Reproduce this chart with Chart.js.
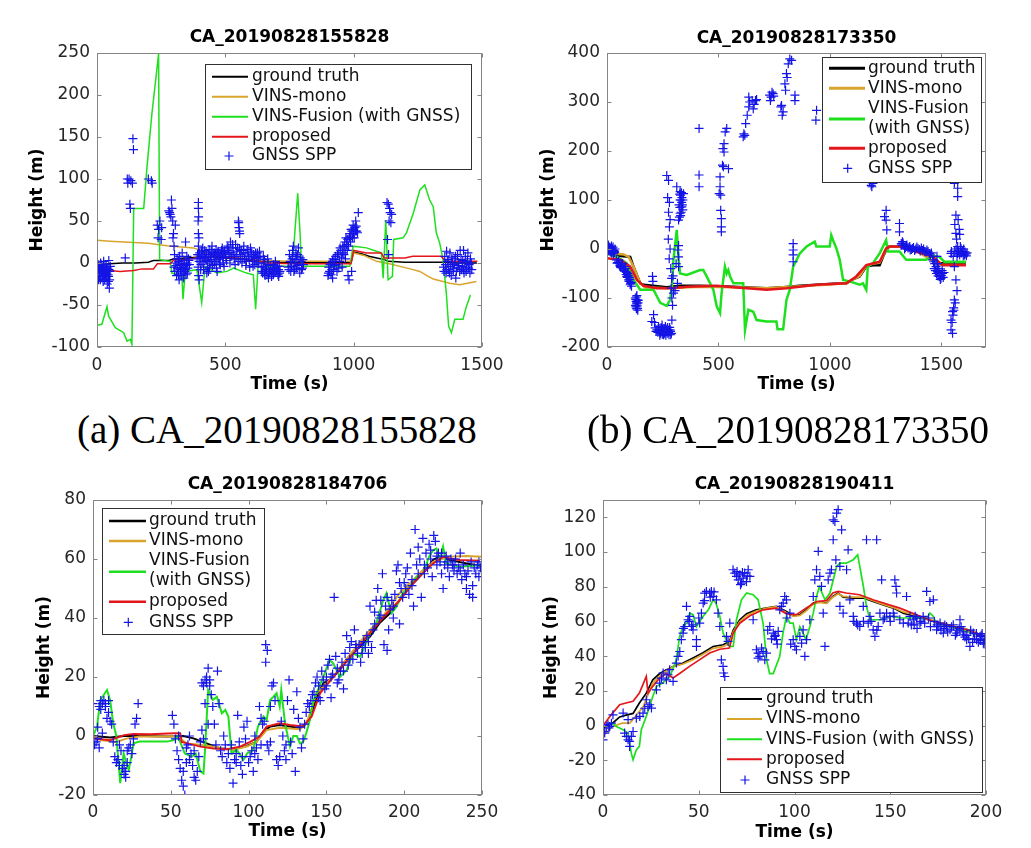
<!DOCTYPE html>
<html><head><meta charset="utf-8">
<script src="https://cdn.jsdelivr.net/npm/chart.js@4/dist/chart.umd.min.js"></script>
<style>
body{margin:0;background:#fff;}
#wrap{position:relative;width:1031px;height:848px;overflow:hidden;background:#fff}
canvas{position:absolute}
.cap{position:absolute;font-family:"Liberation Serif","Times New Roman",serif;font-size:39px;line-height:40px;color:#000;white-space:pre}
</style></head><body>
<div id="wrap">
<canvas id="ca" width="520" height="400" style="left:0;top:0"></canvas>
<canvas id="cb" width="531" height="400" style="left:500px;top:0"></canvas>
<canvas id="cc" width="520" height="388" style="left:0;top:460px"></canvas>
<canvas id="cd" width="531" height="388" style="left:500px;top:460px"></canvas>
<div class="cap" style="left:77px;top:410px">(a) CA_20190828155828</div>
<div class="cap" style="left:587px;top:410px">(b) CA_20190828173350</div>
</div>
<script>
// ---------- series labels ----------
const SERIES = ['ground truth','VINS-mono','VINS-Fusion (with GNSS)','proposed','GNSS SPP'];
const TITLES = ['CA_20190828155828','CA_20190828173350','CA_20190828184706','CA_20190828190411'];

// ---------- (a) ----------
const A_XTICKS = [0,500,1000,1500];
const A_YTICKS = [-100,-50,0,50,100,150,200,250];
const A_GT = [[0,-2],[50,-1],[100,0],[150,0],[200,1],[220,3],[280,3],[300,5],[350,6],[400,7],[450,7],[500,6],[550,5],[600,3],[650,2],[700,1],[800,1],[900,1],[990,1],[1000,13],[1030,11],[1060,8],[1090,6],[1120,4],[1135,2],[1200,1],[1300,1],[1360,1],[1400,0],[1480,0]];
const A_MONO = [[0,27],[50,26],[143,24.5],[200,23.5],[272,20.6],[376,18],[428,12],[500,8],[560,6],[650,3],[750,2],[850,2],[990,2],[1000,12],[1040,9],[1089,2],[1140,-1],[1180,-4],[1220,-7],[1258,-10],[1290,-16],[1310,-19],[1374,-24],[1413,-26],[1478,-22]];
const A_FUS = [[0,-74],[19,-73],[39,-52],[45,-63],[71,-77],[104,-83],[117,-93],[130,-91],[136,-97],[143,65],[182,65],[195,115],[214,178],[240,249],[244,4],[285,2],[292,-12],[331,-16],[335,-43],[344,-10],[389,-8],[408,-47],[421,-4],[467,-12],[506,-10],[532,-6],[583,-12],[609,-14],[618,-55],[629,4],[661,-4],[752,-4],[765,12],[782,83],[791,36],[797,-4],[985,-4],[998,20],[1050,18],[1108,12],[1115,-18],[1125,51],[1134,-20],[1151,-16],[1156,28],[1193,30],[1206,36],[1232,59],[1258,87],[1277,93],[1296,75],[1310,67],[1322,36],[1335,24],[1348,4],[1361,-36],[1370,-75],[1381,-83],[1394,-67],[1426,-67],[1439,-52],[1455,-38]];
const A_PROP = [[0,-9],[52,-9],[90,-10],[143,-9],[175,-7],[220,-7],[235,-1],[285,-1],[300,4],[350,4],[400,7],[450,8],[500,7],[560,5],[620,3],[660,0],[760,-1],[870,-1],[990,-1],[1000,15],[1050,12],[1108,12],[1118,6],[1200,6],[1230,8],[1340,8],[1360,2],[1482,2]];
const A_GNSS = [[0,-5],[3,-10],[5,-2],[8,-15],[10,-8],[12,-3],[15,-12],[18,-6],[20,-18],[22,-10],[25,-4],[28,-14],[30,-20],[32,-8],[35,-2],[38,-12],[40,-25],[42,-6],[45,-16],[48,-30],[50,-10],[52,-4],[44,-22],[36,-18],[26,2],[14,0],[6,-20],[46,3],
[2,-12],[7,-6],[11,-16],[16,-2],[19,-10],[23,-15],[27,-7],[31,-12],[34,-16],[37,-5],[41,-10],[43,-14],[47,-8],[49,-20],[13,-20],[24,-22],
[110,6],[118,100],[120,95],[125,100],[128,70],[130,65],[132,98],[140,148],[142,135],[138,95],[200,100],[215,95],[212,98],
[235,45],[238,30],[240,40],[245,50],[250,28],[252,42],[280,62],[283,60],[285,58],[290,75],[292,65],[295,50],[298,35],[300,20],[302,10],[296,30],[288,55],[305,45],
[300,-5],[305,0],[310,-15],[312,5],[315,-10],[318,2],[320,-20],[322,8],[325,-8],[328,-15],[330,0],[332,12],[335,-5],[338,-18],[340,3],[342,-10],[345,25],[348,-3],[350,8],[352,-12],[356,5],[360,-2],
[303,-10],[308,-3],[314,-6],[317,-14],[323,-2],[327,-10],[331,-6],[336,-12],[339,-1],[344,-8],[347,-14],[351,0],[354,-6],[358,3],
[395,72],[395,65],[396,55],[394,50],[395,35],[397,30],[395,20],[396,10],[394,-5],[396,-15],[398,-20],
[390,5],[400,12],[405,-2],[410,8],[415,-8],[420,15],[425,3],[430,-5],[435,10],[440,0],[445,14],[450,-3],[455,8],[460,2],[465,-6],[470,12],[475,5],[480,-2],[485,15],[490,6],[495,-4],[500,10],[505,3],[412,18],[428,-12],[448,20],[468,-10],[488,18],[418,5],[438,-6],[458,12],[478,8],
[392,10],[398,2],[402,6],[407,14],[413,0],[417,10],[422,6],[427,12],[432,2],[437,16],[442,8],[447,4],[452,12],[457,-2],[462,10],[467,4],[472,14],[477,0],[482,8],[487,12],[492,0],[497,14],[502,6],[507,18],[404,-8],[434,-10],[464,16],[494,12],
[510,20],[515,12],[520,25],[525,8],[530,18],[535,5],[540,22],[545,14],[550,2],[555,16],[518,0],[538,-2],[552,48],[553,42],[555,38],[556,35],[551,50],
[512,15],[522,12],[528,22],[533,10],[542,8],[548,18],[558,5],[562,15],[568,8],[577,12],[582,2],[588,16],[593,4],[603,10],[608,-4],[613,6],[618,12],[623,0],[628,6],[633,14],
[560,10],[565,0],[570,15],[575,5],[580,-3],[585,12],[590,8],[595,-5],[600,14],[605,2],[610,10],[615,-2],[620,6],[625,12],[630,0],[635,8],[572,20],[598,18],
[640,-5],[645,-12],[650,0],[655,-15],[660,-8],[665,5],[670,-10],[675,-3],[680,-16],[685,-6],[690,-12],[695,2],[700,-8],[705,-14],[710,-4],[713,-10],[648,8],[668,-18],[688,-2],[708,-16],
[642,-10],[647,-4],[652,-12],[657,-6],[662,-14],[667,-2],[672,-12],[677,-8],[682,-10],[687,-14],[692,-6],[697,-10],[702,-4],[707,-8],[711,-12],[653,4],
[745,-5],[750,10],[755,-10],[760,5],[762,15],[765,20],[768,0],[770,-8],[775,12],[780,-3],[785,18],[790,-12],[795,2],[800,-6],[804,-2],[778,8],
[748,-8],[753,2],[758,-4],[763,8],[767,-10],[772,4],[777,-6],[782,10],[787,-2],[792,6],[797,-8],[802,4],
[900,-15],[903,-5],[906,-10],[910,0],[915,-8],[918,-18],[920,5],[925,-3],[930,8],[935,-10],[940,12],[945,2],[950,15],[955,-5],[958,20],[962,10],[965,25],[968,5],[970,30],[975,15],[978,-15],[980,20],[985,35],[988,25],[990,40],[995,30],[998,45],[1000,35],[1005,42],[1008,50],[1012,38],[1018,60],[982,-20],[992,-10],
[902,-12],[908,-2],[912,-14],[917,2],[922,-8],[927,4],[932,-2],[937,10],[942,-6],[947,18],[952,6],[957,12],[963,20],[967,15],[972,22],[977,28],[983,30],[987,32],[993,38],[997,40],[1002,30],[1007,38],[1010,44],[1015,36],
[1130,72],[1135,70],[1140,65],[1142,60],[1138,50],[1145,48],[1132,28],[1136,10],[1148,58],
[1350,-5],[1355,8],[1360,-12],[1365,2],[1370,-8],[1375,12],[1380,-15],[1385,0],[1390,-6],[1395,5],[1400,-10],[1405,10],[1410,-3],[1415,15],[1420,-8],[1425,3],[1430,-12],[1435,8],[1440,-5],[1445,12],[1450,-2],[1455,5],[1460,-8],[1362,14],[1398,-18],[1428,15],
[1352,-10],[1358,-2],[1363,-8],[1368,4],[1373,-12],[1378,-4],[1383,6],[1388,-10],[1393,-2],[1397,8],[1403,-6],[1408,0],[1413,-10],[1418,4],[1423,-4],[1428,-8],[1433,0],[1438,-10],[1443,2],[1448,-6],[1453,-12],[1458,0]];

// ---------- (b) ----------
const B_XTICKS = [0,500,1000,1500];
const B_YTICKS = [-200,-100,0,100,200,300,400];
const B_GT = [[0,5],[30,-9],[45,-14],[104,-16],[119,-36],[149,-70],[164,-73],[268,-78],[328,-75],[417,-75],[567,-77],[716,-80],[790,-78],[865,-75],[1014,-71],[1074,-70],[1103,-62],[1133,-56],[1163,-36],[1193,-33],[1223,-33],[1238,-16],[1252,-2],[1267,5],[1312,5],[1342,2],[1402,-5],[1446,-9],[1491,-29],[1521,-29],[1610,-29]];
const B_MONO = [[0,-9],[30,-9],[52,-10],[75,-11],[97,-16],[119,-36],[149,-70],[170,-78],[268,-80],[417,-77],[567,-78],[716,-80],[865,-76],[1014,-72],[1074,-70],[1103,-62],[1133,-55],[1163,-34],[1193,-30],[1223,-28],[1238,-14],[1252,0],[1267,5],[1312,5],[1402,-8],[1491,-32],[1610,-32]];
const B_FUS = [[0,-9],[45,-16],[89,-29],[119,-63],[149,-83],[209,-83],[224,-97],[239,-110],[268,-116],[283,-104],[291,-77],[298,-22],[313,39],[321,-22],[328,-50],[358,-53],[417,-43],[432,-43],[447,-56],[477,-83],[492,-117],[507,-131],[514,-90],[529,-36],[537,-50],[544,-43],[552,-56],[567,-70],[611,-70],[619,-165],[634,-124],[656,-128],[671,-145],[716,-148],[760,-148],[765,-164],[790,-164],[805,-104],[820,-83],[835,-36],[865,-9],[895,5],[932,15],[939,5],[999,5],[1006,28],[1014,18],[1029,1],[1044,-22],[1059,-63],[1088,-66],[1133,-73],[1148,-70],[1163,-83],[1170,-36],[1193,-29],[1223,-9],[1252,18],[1260,-5],[1312,-5],[1342,-22],[1431,-22],[1461,-14],[1491,-16],[1513,-26],[1610,-26]];
const B_PROP = [[0,-19],[60,-22],[104,-36],[134,-63],[164,-75],[224,-80],[298,-80],[358,-77],[492,-75],[567,-78],[716,-83],[805,-80],[939,-73],[1074,-70],[1118,-56],[1163,-33],[1223,-26],[1252,1],[1267,5],[1312,5],[1387,-5],[1461,-16],[1506,-33],[1610,-33]];
const B_GNSS = [[0,5],[3,0],[6,8],[9,-3],[12,3],[15,-6],[18,2],[21,-8],[24,-2],[27,4],[30,-10],[33,-5],[36,0],[5,-4],[20,6],
[1,2],[4,6],[7,-1],[10,4],[13,-3],[16,1],[19,-4],[22,-6],[25,0],[28,-8],[31,-3],[34,-7],[2,-2],[8,3],
[45,-29],[52,-25],[60,-36],[67,-33],[75,-43],[82,-40],[89,-56],[93,-50],[97,-63],[100,-58],[104,-73],[108,-68],[70,-30],[85,-46],
[42,-22],[48,-28],[55,-30],[58,-34],[63,-38],[65,-30],[72,-40],[78,-44],[80,-36],[86,-52],[88,-48],[91,-58],[95,-54],[99,-66],[102,-62],[106,-70],[110,-76],
[127,-100],[131,-107],[134,-112],[137,-121],[134,-95],[140,-105],[128,-115],[138,-125],[204,-56],[206,-66],
[129,-103],[132,-98],[133,-110],[136,-104],[130,-118],[135,-116],[139,-110],[132,-122],
[201,-148],[209,-134],[216,-161],[224,-165],[231,-158],[239,-172],[246,-168],[254,-175],[261,-162],[268,-168],[276,-170],[283,-165],[291,-145],[213,-150],[243,-160],[258,-172],[272,-160],[286,-175],[220,-168],[250,-165],
[228,-170],[234,-166],[237,-176],[242,-170],[248,-174],[252,-168],[256,-163],[260,-170],[264,-176],[266,-165],[270,-172],[274,-166],[278,-175],[281,-160],[285,-168],[289,-172],[262,-158],[247,-155],
[268,150],[276,140],[272,105],[280,95],[276,75],[283,60],[280,45],[275,20],[283,0],[279,-20],[286,-40],[290,-60],[288,-80],[291,-100],[294,-115],[296,-55],[298,-90],
[313,127],[328,117],[328,100],[336,86],[328,73],[321,59],[330,110],[335,95],[340,80],[325,65],[343,113],[318,-2],[321,7],[321,-16],[321,-36],[316,-70],[305,-85],[310,-30],
[323,90],[327,85],[331,100],[333,75],[336,105],[338,90],[334,115],[326,112],[341,100],[330,68],
[413,246],[413,151],[413,127],
[503,113],[507,127],[507,147],[510,79],[513,62],[513,45],[513,35],[518,171],[525,198],[525,215],[530,239],[537,246],[545,164],[522,168],[510,110],[520,205],
[611,229],[614,235],[622,256],[629,273],[636,290],[636,310],[651,303],[656,286],[666,303],[671,305],[618,232],[640,300],[660,295],
[729,314],[736,310],[745,317],[733,303],[740,320],[748,312],
[783,293],[786,273],[780,290],[798,337],[801,324],[805,358],[813,378],[820,388],[828,385],[790,280],[808,350],
[843,314],[843,303],[835,11],[835,-2],[835,-12],[835,-26],[940,283],[937,263],
[1185,130],[1178,137],[1193,134],[1188,127],[1252,79],[1252,59],[1255,39],[1245,66],[1312,52],[1312,35],
[1320,11],[1330,8],[1342,5],[1355,3],[1370,1],[1385,0],[1401,-1],[1415,-3],[1431,-6],[1446,-9],[1325,15],[1360,-2],[1390,4],[1420,0],[1440,-5],[1335,0],
[1322,8],[1328,12],[1338,3],[1345,8],[1350,2],[1358,5],[1365,-1],[1375,3],[1380,-3],[1395,1],[1405,-4],[1410,2],[1425,-5],[1435,-2],[1450,-12],[1455,-8],
[1461,-22],[1476,-36],[1483,-46],[1491,-56],[1498,-60],[1470,-30],[1488,-40],[1505,-50],[1480,-15],
[1465,-26],[1468,-40],[1473,-44],[1478,-50],[1485,-55],[1493,-48],[1495,-62],[1500,-54],[1503,-44],[1508,-58],[1512,-48],[1482,-30],
[1558,134],[1573,124],[1573,107],[1565,69],[1565,32],[1573,5],[1573,-9],[1558,-36],[1565,-63],[1558,-104],[1550,-128],[1543,-145],[1543,-165],[1550,-172],[1543,-9],[1588,1],[1603,-12],[1580,40],[1595,-5],[1610,-10],[1555,-120],[1560,50],
[1560,-5],[1566,0],[1570,-15],[1576,-4],[1582,-12],[1585,5],[1590,-8],[1598,-14],[1600,0],[1606,-6],[1612,-14],[1615,-8],[1568,20],[1575,60],[1582,30],[1552,-135],[1548,-150],[1556,-125],[1562,-110],[1570,-85],[1545,-5],[1553,-15]];

// ---------- (c) ----------
const C_XTICKS = [0,50,100,150,200,250];
const C_YTICKS = [-20,0,20,40,60,80];
const C_GT = [[0,0],[11,-0.5],[20,0],[26,0],[32.5,0],[47.5,-0.2],[58,0],[64.6,-0.8],[73,-2.5],[81.7,-4.2],[90,-4.5],[98.8,-3.4],[105,-2],[109.5,1.5],[114,3.2],[120,3.7],[126.6,3.2],[133,2.6],[137,4.3],[140.5,7.7],[143.7,13.3],[148,17.9],[152,19],[158.7,22.4],[165,26.9],[171.5,30.3],[178,33.7],[184,38.2],[190.8,41.6],[197,46],[201.5,49.5],[207.9,52.9],[214,56.3],[218.6,59.7],[222.8,60.8],[229,59.7],[240,58.5],[250,57.6]];
const C_MONO = [[0,0],[4.7,-1.4],[15,-2],[22,-0.8],[30,-0.2],[47.5,-0.2],[54,0],[60,-2.5],[69,-3],[80,-3.8],[90,-4.7],[99,-3.5],[105,-2],[111.6,2],[120,2.8],[133,2.3],[137,4],[143.7,14.5],[154,20],[165,27.5],[176,34.8],[187,41],[197,48.4],[206,53],[214,57.4],[218.6,59],[229,60.8],[240,61],[250,60.8]];
const C_FUS = [[0,0],[2.6,3.2],[4.7,12.2],[9,15.6],[11,12.2],[13,4.3],[15,0],[17.5,-16],[19.7,-5.9],[22,-10.4],[23,-11.5],[25,-5.9],[26,-2.5],[30,-1.9],[47.5,-1.9],[52,-1.4],[54,0],[56,-2],[59,-5.9],[63.5,-7],[66,-5.9],[69,-12],[71,-12.7],[72,-4.7],[74,15.6],[77,12.2],[79.6,13.3],[82.8,7.7],[85,8.8],[87,6.6],[89,-5.9],[92.4,-4.7],[96.7,-8.1],[99,-5.9],[103,-4.7],[106,3.2],[109.5,6.6],[111.6,5.4],[113.8,12.2],[116,13.3],[118,14.5],[120,10],[121,15.6],[123.4,4.3],[126.6,-3.6],[128.7,0],[131,0],[133,-2.5],[135,-2],[137,0.9],[139.4,5.4],[141.6,12.2],[143.7,14.5],[148,20],[152,25.8],[154.4,24.6],[158.7,20],[163,22.4],[167,28],[171.5,26.9],[173.6,29.2],[178,34.8],[182,38.2],[186.5,46],[188.6,48.4],[191.8,41.6],[195,43.8],[199,48.4],[203.6,50.6],[208,54],[212,55],[216,60.8],[218.6,63],[220.7,63.6],[223,59.7],[225,64.2],[227,58.5],[235.7,57.4],[250,58]];
const C_PROP = [[0,-0.8],[11,-1.4],[20,0.3],[26,0.7],[37,0.6],[52,0.9],[56,0.9],[57,-2],[69,-3.6],[77.5,-4.2],[86,-4.5],[94.5,-3.6],[101,-2],[107,-0.2],[111.6,3.2],[120,4.3],[126.6,3.7],[135,3.2],[140.5,6.6],[146,14.5],[152,18.4],[165,26.5],[176,33.7],[187,40.5],[197,46],[207,52.5],[214,56.3],[218.6,58.5],[225,60.8],[229,60.2],[235.7,59.7],[248.5,59.4]];
const C_GNSS = [[0,11],[1,-3],[2,-2],[3,3],[4,10],[5,9],[6,11],[7,12],[8,10],[9,6],[10,8],[11,5],[12,4],[4,-4],[6,1],[3,-1],
[8,11],[10,12],[5,12],[20,-10],[22,-9],
[13,-2],[14,-7],[15,-9],[16,-8],[17,-3],[18,-5],[19,-11],[20,-13],[21,-12],[22,-5],[23,-4],[24,-3],[25,-6],[26,-1],[27,4],[28,6],[29,11],[17,-10],[21,-14],
[51,7],[52,4],[53,-1],[54,-5],[55,-8],[56,-11],[57,-15],[58,-17],[59,-20],[60,-9],[61,-3],[62,0],[63,-6],[64,-10],[65,-14],[66,-15],[67,-12],[68,-7],[69,-2],[70,2],[71,-1],[55,0],[60,-4],[65,-5],[58,-12],[62,-8],
[70,18],[71,17],[72,19],[73,20],[74,23],[75,17],[76,14],[77,10],[78,4],[79,-3],[80,22],[81,11],[74,4],[72,11],[73,18],[75,19],
[82,-5],[83,-7],[84,0],[85,-3],[86,-9],[87,-6],[88,-11],[89,-3],[90,-16],[91,-8],[92,-6],[93,7],[94,-2],[95,-10],[96,-13],[97,3],[98,-1],[99,5],[100,-9],[101,-7],[102,-5],[103,-12],[104,0],[105,-4],[106,-8],[107,10],[108,6],[109,4],[92,-9],[96,-7],[104,-6],[108,-3],
[110,5],[111,31],[112,29],[111,25],[112,-3],[113,-5],[114,-2],[115,17],[116,18],[117,12],[118,-8],[119,-10],[120,-7],[121,5],[122,0],[123,-5],[124,-3],[125,12],[126,19],[127,-2],[128,-6],[129,9],[130,-12],[131,15],[132,6],[133,3],[134,-4],[135,-1],[136,4],[114,10],[124,-8],
[137,8],[138,11],[139,10],[140,12],[141,14],[142,15],[143,18],[144,20],[145,17],[146,12],[147,22],[148,19],[149,16],[150,20],
[151,24],[152,26],[153,13],[154,21],[155,47],[156,27],[157,18],[158,19],[159,22],[160,25],[161,16],[162,28],[163,34],[164,24],[165,30],[166,32],[167,26],[168,36],[169,30],[170,28],[171,31],[172,25],[173,30],[174,32],[175,30],[176,34],[177,28],[178,44],[179,30],[180,36],[181,38],[182,46],[183,50],[184,40],[185,46],[186,55],[187,31],[188,44],[189,29],[190,36],[191,43],[192,46],[193,40],[194,48],[195,56],[196,58],[197,38],[198,50],[199,47],[200,52],
[145,13],[150,17],[153,20],[157,23],[161,22],[165,26],[169,31],[173,28],[177,32],[181,42],[185,41],[189,47],[193,44],[197,52],[201,50],[205,51],[209,55],[213,58],[217,60],[221,61],[224,62],[228,59],[232,58],[236,56],[240,54],[244,51],[248,59],
[201,55],[202,57],[203,48],[204,62],[205,53],[206,44],[207,70],[208,58],[209,64],[210,60],[211,47],[212,67],[213,55],[214,62],[215,57],[216,65],[217,63],[218,54],[219,68],[220,66],[221,58],[222,62],
[223,59],[224,55],[225,50],[226,58],[227,61],[228,57],[229,54],[230,60],[231,58],[232,56],[233,60],[234,55],[235,57],[236,62],[237,53],[238,58],[239,55],[240,50],[241,56],[242,48],[243,59],[244,47],[245,57],[246,55],[247,58],[248,54],[249,57],[250,56]];

// ---------- (d) ----------
const D_XTICKS = [0,50,100,150,200];
const D_YTICKS = [-40,-20,0,20,40,60,80,100,120];
const D_GT = [[0,-2],[1.7,0],[5,1.4],[8.7,5],[12,6],[15.7,7],[19,13],[22.6,18.7],[26,26.4],[29.6,30],[33,32],[36.6,34],[41.8,36],[47,39],[52,41.8],[57.5,45.6],[62.7,46.6],[66,48.5],[68,55],[71.4,61],[75,64.4],[80,66.7],[85,67.7],[90.6,68.7],[95.8,65.8],[99.3,63.3],[102.8,63.9],[106,66.7],[109.8,70.6],[113,71.5],[116.7,70.6],[120,74.4],[122.8,76.4],[125.4,74],[130.7,73.5],[136,73.5],[141,71.5],[146,69.6],[151.6,67.7],[156.8,64.8],[162,63.3],[167,62],[172.5,60],[177.7,59],[183,57],[188,56],[193,54.3],[198.6,51.4]];
const D_MONO = [[0,-6],[5,-0.5],[10,1.4],[14,1.4],[17,5.3],[21,11],[26,24.5],[31,30],[36.6,34],[41.8,35.5],[47,38],[52,41],[57.5,44.5],[62.7,45.5],[66,47.5],[68,54],[71.4,60],[75,63.5],[80,66],[85,67.5],[90.6,68.5],[95.8,65],[99.3,63],[102.8,63.5],[106,66],[109.8,70],[113,71],[116.7,70.5],[120,74],[122.8,76],[125.4,74.5],[130.7,74],[136,74],[141,72],[146,70],[151.6,68],[156.8,65.5],[162,64],[167,62.5],[172.5,60.5],[177.7,59],[183,57.5],[188,56],[193,54.5],[198.6,51.5]];
const D_FUS = [[5,1.4],[7,-0.5],[10.5,-2.4],[13,-4.3],[14.8,-16],[15.7,-19.7],[17.4,-14],[19,-12],[20,-2.4],[22.6,5.3],[26,16.8],[28,22.6],[31,24.5],[35,28.3],[38.3,38],[40,51.4],[41.8,57],[43.5,59],[45.3,64.8],[47,63.9],[48.8,57],[52.3,63],[55,66.7],[57.5,72.5],[59,70.6],[61,63],[62.7,53.3],[66,45.6],[68,45.6],[69.7,61],[72.3,72.5],[75,76.4],[78.4,75.4],[81,72.5],[83.6,59],[85.4,38],[87,30],[88.9,30],[92.3,40],[94,53.3],[95.8,63],[97.6,59],[99.3,59],[101,49.5],[102.8,57],[104.5,53.3],[106,49.5],[108,57],[109.8,64.8],[111.5,74.4],[113,80],[115.9,72.5],[118.5,76.4],[122,91.7],[123.7,93.6],[127,93.6],[130.7,95.6],[133,98.4],[136,80],[137.6,68.7],[139.4,61],[141,61],[145,61],[150,63],[155,62],[165.5,62],[169,61.4],[170.7,64.8],[172.5,63],[174,59],[181,57],[190,54.3],[198.6,51.4]];
const D_PROP = [[0,0],[5,7.2],[8.7,12],[12,13],[15.7,14],[19,18.7],[22.6,28.3],[23.5,18.7],[26,22.6],[29.6,27.4],[33,30],[36.6,27.4],[40,30],[45,34],[50.5,38],[55.7,41.8],[61,44],[66,44.7],[68,53.3],[71.4,59],[76.7,63.3],[83.6,66.7],[90.6,67.7],[95.8,64.4],[101,63.9],[106,67.7],[111.5,71.5],[116.7,72],[120,76.4],[122.8,77.3],[127,76.4],[134,75.4],[141,72.5],[155,67.7],[172.5,60],[190,55.2],[198.6,51.4]];
const D_GNSS = [[0,-8.2],[0.9,-4.3],[1.7,-0.5],[2.6,0.5],[3.5,-0.5],[4.4,1.4],[5.2,6.2],[0.3,-3.4],[3.1,-1.4],
[10.5,7.2],[11.3,-4.3],[12.2,-6.2],[13.1,-8.2],[13.9,-9.1],[14.8,-6.2],[13.9,-12],[13.1,3.4],[15.7,-3.4],
[17.4,4.3],[19.2,5.3],[20.9,7.2],[22.6,14.9],[23.5,11],[24.4,12],[25.3,10.1],[21.8,10],
[27.9,20.6],[29.6,24.5],[31.4,30.3],[33.1,26.4],[34.8,32.2],[36.6,25.5],[38.3,36],[39.2,39.9],[40.1,42.7],[30.5,27.4],[34,29.3],
[40.9,49.5],[41.8,53.3],[42.7,57.1],[43.6,68.7],[45.3,62.9],[46.2,57.1],[47,55.2],[48.8,49.5],[50.5,59.1],[51.4,64.8],[52.3,70.6],[54,77.3],[55.7,76.4],[57.5,74.4],[59.2,72.5],[60.1,64.8],[61,57.1],[53.1,76.3],[56.6,77.3],[48.8,45.6],[44.4,61],
[42,56],[45,60],[47,58],[50,62],[53,72],[56,74],[58,77],
[61.8,37.9],[62.7,34.1],[63.6,28.3],[64.5,51.4],[65.3,48.5],[66.2,59.1],[63,30.3],
[67.9,89.8],[68.8,87.9],[69.7,86],[70.6,84],[71.4,86.9],[72.3,82.1],[73.2,85],[74,87.9],[74.9,83],[75.8,89.8],[76.7,86],[70,88.8],[72.8,88.2],[75.3,86.3],[71.8,81.2],
[78.4,61],[80.1,43.7],[81,41.8],[81.9,39.9],[83.6,42.7],[85.4,41.8],[84.5,37.9],[82.8,44.7],[81,38.9],
[87.1,57.1],[88.9,53.3],[89.7,51.4],[90.6,49.5],[92.3,66.7],[94.1,70.6],[94.9,74.4],[95.8,72.5],[97.6,64.8],[99.3,49.5],[100.2,45.6],[91.5,54.3],[93.2,68.7],
[86,55],[88,50],[90,52],[91,47],[96,62],[98,47],
[101,43.7],[102.8,51.4],[104.5,55.2],[105.4,39.9],[106.3,49.5],[108,61],[109.8,74.4],[111.5,89.8],[112.4,100.4],[113.2,86],[114.1,80.2],[115,64.8],[115.9,45.6],[103.7,47.5],[110.6,84],
[117.6,84],[118.5,87.9],[119.3,89.8],[120.2,107.1],[121.1,117.6],[122,122.4],[122.8,124.4],[124.6,112.8],[123.7,68.7],[125.4,64.8],[123.7,91.7],[121.6,95.5],[120.2,118.6],
[128,101.3],[128.9,72.5],[130.7,62.9],[132.4,59.1],[134.1,57.1],[135.9,68.7],[127.2,89.8],
[131,60],[133,58],[136,60],[140,60],[143,55],[147,62],[150,60],[152,63],
[137.6,107.1],[142.9,107.1],[139.4,62.9],[141.1,55.2],[142,51.4],[143.7,57.1],[144.6,64.8],[145.5,84],[138.5,59],
[146.3,61],[148.1,64.8],[149.8,62.9],[151.6,64.8],[152.4,84],[153.3,76.4],[155,61],[156.8,59.1],[158.5,74.4],[159.4,59.1],[160.3,62.9],[153,80.2],
[162,61],[163.8,61.9],[165.5,59.1],[167.2,62.9],[169,77.3],[170.7,71.5],[172.5,72.5],[174.2,55.2],[176,59.1],[177.7,53.3],[179.4,57.1],[181.2,55.2],[182.9,58.1],[184.7,53.3],[186.4,61],[188.2,52.3],[189.9,49.5],[191.6,45.6],[193.4,53.3],[195.1,49.5],[196.9,51.4],[198.6,47.5],[199.5,49.5],
[162.5,58],[166,60],[175,57],[178,56],[185,55],[187,57],[190,52],[192,55],[194,50],[196,48],[197.5,52],[199,50],
[161,58],[163,63],[164,56],[168,59],[170,62],[171,57],[173,60],[174.5,58],[176.5,55],[178.5,58],[180,54],[182,57],[184,52],[186,56],[188,54],[189,51],[191,50],[193,48],[195,53],[197,49],[198,53],[199,47]];

// ---------- styling ----------
const COL = {gt:'#000000', mono:'#d9a42c', fus:'#1ee01e', prop:'#e3161b', gnss:'#1414e6'};
const FONT = 'DejaVu Sans';
const TXT = '#262626';

const xy = arr => arr.map(p => ({x:p[0], y:p[1]}));

const panelPlugin = {
  id:'panel',
  afterDraw(chart, args, o){
    const ctx = chart.ctx, a = chart.chartArea;
    ctx.save();
    ctx.strokeStyle = '#858585'; ctx.lineWidth = 1;
    const L = Math.round(a.left)+0.5, T = Math.round(a.top)+0.5, R = Math.round(a.right)-0.5, B = Math.round(a.bottom)-0.5;
    ctx.strokeRect(L, T, R-L, B-T);
    ctx.beginPath();
    const tl = 4;
    chart.scales.x.ticks.forEach(t => {
      const px = Math.round(chart.scales.x.getPixelForValue(t.value))+0.5;
      ctx.moveTo(px, B); ctx.lineTo(px, B-tl);
      ctx.moveTo(px, T); ctx.lineTo(px, T+tl);
    });
    chart.scales.y.ticks.forEach(t => {
      const py = Math.round(chart.scales.y.getPixelForValue(t.value))+0.5;
      ctx.moveTo(L, py); ctx.lineTo(L+tl, py);
      ctx.moveTo(R, py); ctx.lineTo(R-tl, py);
    });
    ctx.stroke();
    const lg = o.legend;
    ctx.fillStyle = '#fff';
    ctx.fillRect(lg.x1, lg.y1, lg.x2-lg.x1, lg.y2-lg.y1);
    ctx.strokeStyle = '#303030'; ctx.lineWidth = 1;
    ctx.strokeRect(Math.round(lg.x1)+0.5, Math.round(lg.y1)+0.5, Math.round(lg.x2-lg.x1), Math.round(lg.y2-lg.y1));
    ctx.font = '17px "' + FONT + '"';
    ctx.textBaseline = 'middle'; ctx.textAlign = 'left';
    const ds = chart.data.datasets;
    lg.rows.forEach((r, i) => {
      const d = ds[i];
      if (i < 4) {
        ctx.strokeStyle = d.borderColor; ctx.lineWidth = lg.lw;
        ctx.beginPath(); ctx.moveTo(lg.lx1, r.ly); ctx.lineTo(lg.lx2, r.ly); ctx.stroke();
      } else {
        ctx.strokeStyle = d.borderColor; ctx.lineWidth = 1.2;
        ctx.beginPath();
        ctx.moveTo(lg.mx-4.5, r.ly); ctx.lineTo(lg.mx+4.5, r.ly);
        ctx.moveTo(lg.mx, r.ly-4.5); ctx.lineTo(lg.mx, r.ly+4.5);
        ctx.stroke();
      }
      ctx.fillStyle = '#111';
      r.text.forEach((t, k) => ctx.fillText(t, lg.tx, r.ty[k]));
    });
    ctx.restore();
  }
};

function build(id, P){
  const W = P.W, H = P.H;
  const lw = P.lw;
  const line = (label, data, color, order) => ({label, data: xy(data), showLine:true, borderColor:color, backgroundColor:color, borderWidth:lw, pointRadius:0, pointHoverRadius:0, tension:0, order});
  new Chart(document.getElementById(id), {
    type:'scatter',
    data:{datasets:[
      line(SERIES[0], P.gt, COL.gt, 4),
      line(SERIES[1], P.mono, COL.mono, 3),
      line(SERIES[2], P.fus, COL.fus, 2),
      line(SERIES[3], P.prop, COL.prop, 1),
      {label:SERIES[4], data: xy(P.gnss), showLine:false, pointStyle:'cross', pointRadius:4.5, pointHoverRadius:4.5, borderColor:COL.gnss, backgroundColor:COL.gnss, pointBorderWidth:1.2, borderWidth:1.2, order:0}
    ]},
    options:{
      responsive:false, animation:false, events:[],
      layout:{padding:{left:0, top:0, right:W-P.box[2], bottom:0}},
      plugins:{
        legend:{display:false}, tooltip:{enabled:false},
        title:{display:true, text:P.title, fullSize:false, color:'#000',
          font:{family:FONT, size:17, weight:'bold'},
          padding:{top:P.titleY-10.2, bottom:P.box[1]-P.titleY-10.2}},
        panel:{legend:P.legend}
      },
      scales:{
        x:{type:'linear', min:P.xr[0], max:P.xr[1],
          grid:{display:false, drawTicks:false}, border:{display:false},
          afterBuildTicks: s => { s.ticks = P.xt.map(v => ({value:v})); },
          afterFit: s => { s.height = H - P.box[3]; s.paddingLeft = 0; s.paddingRight = 0; },
          ticks:{autoSkip:false, maxRotation:0, padding:P.xpad, color:TXT, font:{family:FONT, size:17}, callback: v => String(v)},
          title:{display:true, text:'Time (s)', color:'#000', font:{family:FONT, size:17, weight:'bold'}, padding:{top:0, bottom:H-P.xTitleY-10.2}}
        },
        y:{type:'linear', min:P.yr[0], max:P.yr[1],
          grid:{display:false, drawTicks:false}, border:{display:false},
          afterBuildTicks: s => { s.ticks = P.yt.map(v => ({value:v})); },
          afterFit: s => { s.width = P.box[0]; s.paddingTop = 0; s.paddingBottom = 0; },
          ticks:{autoSkip:false, padding:7, color:TXT, font:{family:FONT, size:17}, callback: v => String(v)},
          title:{display:true, text:'Height (m)', color:'#000', font:{family:FONT, size:17, weight:'bold'}, padding:{top:P.yTitleX-10.2, bottom:0}}
        }
      }
    },
    plugins:[panelPlugin]
  });
}

build('ca', {W:520, H:400, box:[97,53,482,347], lw:1.5, title:TITLES[0],
  gt:A_GT, mono:A_MONO, fus:A_FUS, prop:A_PROP, gnss:A_GNSS,
  xr:[0,1500], xt:A_XTICKS, yr:[-100,250], yt:A_YTICKS,
  titleY:38, xTitleY:385, yTitleX:38, xpad:8,
  legend:{x1:205, y1:64, x2:471, y2:169, lx1:212, lx2:248, tx:252, mx:229, lw:2,
    rows:[{ly:76.7,text:['ground truth'],ty:[76.7]},{ly:96.7,text:['VINS-mono'],ty:[96.7]},{ly:116.7,text:['VINS-Fusion (with GNSS)'],ty:[116.7]},{ly:136.7,text:['proposed'],ty:[136.7]},{ly:156,text:['GNSS SPP'],ty:[156]}]}});

build('cb', {W:531, H:400, box:[107,53,486,347], lw:2.5, title:TITLES[1],
  gt:B_GT, mono:B_MONO, fus:B_FUS, prop:B_PROP, gnss:B_GNSS,
  xr:[0,1700], xt:B_XTICKS, yr:[-200,400], yt:B_YTICKS,
  titleY:38.3, xTitleY:385, yTitleX:48.3, xpad:8,
  legend:{x1:322, y1:57, x2:481, y2:182, lx1:329, lx2:365, tx:368, mx:347.7, lw:3,
    rows:[{ly:68.3,text:['ground truth'],ty:[68.3]},{ly:88.3,text:['VINS-mono'],ty:[88.3]},{ly:119,text:['VINS-Fusion','(with GNSS)'],ty:[109,128.3]},{ly:148.3,text:['proposed'],ty:[148.3]},{ly:168.3,text:['GNSS SPP'],ty:[168.3]}]}});

build('cc', {W:520, H:388, box:[93,40,482,335], lw:2, title:TITLES[2],
  gt:C_GT, mono:C_MONO, fus:C_FUS, prop:C_PROP, gnss:C_GNSS,
  xr:[0,250], xt:C_XTICKS, yr:[-20,80], yt:C_YTICKS,
  titleY:25, xTitleY:371.7, yTitleX:45, xpad:7,
  legend:{x1:102, y1:48, x2:264, y2:174, lx1:109, lx2:146, tx:149, mx:128.3, lw:2.5,
    rows:[{ly:61,text:['ground truth'],ty:[61]},{ly:81,text:['VINS-mono'],ty:[81]},{ly:111.7,text:['VINS-Fusion','(with GNSS)'],ty:[101,121]},{ly:141.7,text:['proposed'],ty:[141.7]},{ly:162.3,text:['GNSS SPP'],ty:[162.3]}]}});

build('cd', {W:531, H:388, box:[103,40,486,335], lw:1.7, title:TITLES[3],
  gt:D_GT, mono:D_MONO, fus:D_FUS, prop:D_PROP, gnss:D_GNSS,
  xr:[0,200], xt:D_XTICKS, yr:[-40,130], yt:D_YTICKS,
  titleY:25, xTitleY:372.7, yTitleX:51.7, xpad:7,
  legend:{x1:220, y1:227, x2:482, y2:332, lx1:227, lx2:262, tx:266, mx:245, lw:2,
    rows:[{ly:239,text:['ground truth'],ty:[239]},{ly:259,text:['VINS-mono'],ty:[259]},{ly:279.3,text:['VINS-Fusion (with GNSS)'],ty:[279.3]},{ly:299.3,text:['proposed'],ty:[299.3]},{ly:320,text:['GNSS SPP'],ty:[320]}]}});
</script>
</body></html>
